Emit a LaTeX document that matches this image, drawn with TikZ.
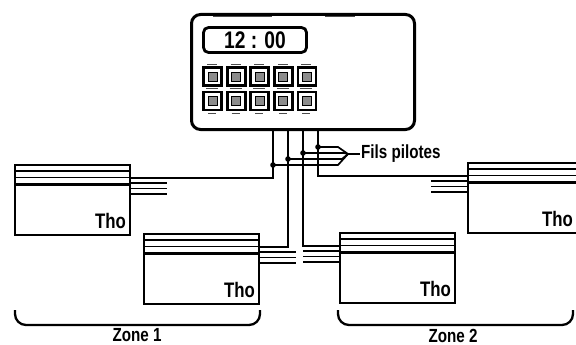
\documentclass[tikz,border=0pt]{standalone}
\usepackage{fontspec}
\newfontfamily\labelfont[FakeStretch=0.8]{Liberation Sans}

\tikzset{
  radiator/.style={draw, line width=2.1pt, minimum width=115pt, minimum height=70pt,
    inner sep=0pt, outer sep=0pt, anchor=north west},
  wire/.style={line width=1.7pt},
  key/.style={draw, line width=2.8pt, minimum size=18pt, inner sep=0pt},
  keyface/.style={draw, line width=0.9pt, fill=black!45, minimum size=9pt, inner sep=0pt},
  tag/.style={font=\labelfont\bfseries\fontsize{19}{20}\selectfont, inner sep=1pt},
  brace/.style={line width=2.3pt, rounded corners=11pt},
}

\begin{document}
\begin{tikzpicture}[x=1pt, y=-1pt]
  \useasboundingbox (0,0) rectangle (576,345);

  % programmer box
  \node[draw, line width=3pt, rounded corners=9pt, minimum width=223pt,
    minimum height=115pt, anchor=north west] (ctrl) at (190,13) {};
  % clock display
  \node[draw, line width=2.8pt, rounded corners=5pt, minimum width=103pt,
    minimum height=25pt, font=\labelfont\bfseries\fontsize{24}{24}\selectfont]
    (screen) at (255,40) {12 : 00};
  % keys
  \foreach \c in {0,...,4}
    \foreach \r in {0,1} {
      \node[key] (key-\r-\c) at ({212.5+23.6*\c}, {76.5+24.5*\r}) {};
      \node[keyface] at (key-\r-\c) {};
    }
  % small print round the keys
  \foreach \c in {0,...,4} {
    \draw[line width=0.6pt, black!70] ({207+23.6*\c},64) -- ++(10,0);
    \draw[line width=0.6pt, black!70] ({206+23.6*\c},88.5) -- ++(12,0);
    \draw[line width=0.6pt, black!70] ({208+23.6*\c},113) -- ++(8,0);
  }
  \draw[line width=0.6pt, black!70] (213,16) -- (272,16);
  \draw[line width=0.6pt, black!70] (325,16) -- (355,16);

  % radiators
  \node[radiator] (radA) at (15,165) {};
  \node[radiator] (radB) at (144,234) {};
  \node[radiator] (radC) at (340,233) {};
  \node[radiator] (radD) at (468,163) {};
  % fins on top
  \foreach \r/\dx in {radA/-3, radB/-3, radC/-3, radD/-9} {
    \draw[line width=1.6pt] ([yshift=-6pt]\r.north west) -- ([yshift=-6pt]\r.north east);
    \draw[line width=1.6pt] ([yshift=-12.5pt]\r.north west) -- ([yshift=-12.5pt]\r.north east);
    \draw[line width=3pt] ([yshift=-19pt]\r.north west) -- ([yshift=-19pt]\r.north east);
    \node[tag, font=\labelfont\bfseries\fontsize{21}{21}\selectfont, anchor=south east]
      (tho-\r) at ([shift={(\dx pt,5pt)}]\r.south east) {Tho};
  }
  % cable ends
  \foreach \r/\a/\d in {radA/east/1, radB/east/1, radC/west/-1, radD/west/-1} {
    \draw[line width=1.6pt] ([yshift=-18pt]\r.north \a) -- ++(\d*37,0);
    \draw[line width=1.6pt] ([yshift=-23.5pt]\r.north \a) -- ++(\d*37,0);
    \draw[line width=2.3pt] ([yshift=-29pt]\r.north \a) -- ++(\d*37,0);
  }
  \coordinate (inA) at ([yshift=-13pt]radA.north east);
  \coordinate (inB) at ([yshift=-13pt]radB.north east);
  \coordinate (inC) at ([yshift=-13pt]radC.north west);
  \coordinate (inD) at ([yshift=-13pt]radD.north west);

  % pilot wires
  \coordinate (w1) at (273,128);
  \coordinate (w2) at (288,128);
  \coordinate (w3) at (303,128);
  \coordinate (w4) at (318,128);
  \draw[wire] (w1) |- (inA);
  \draw[wire] (w2) |- (inB);
  \draw[wire] (w3) |- (inC);
  \draw[wire] (w4) |- (inD);

  % taps and bundle
  \foreach \i/\x/\y in {1/273/165, 2/288/159, 3/303/153, 4/318/147} {
    \coordinate (j\i) at (\x,\y);
    \fill (j\i) circle (2.8pt);
  }
  \coordinate (tip) at (348,154);
  \draw[wire] (j4) -- (338,147) -- (tip) -- (338,165) -- (j1);
  \draw[wire] (j3) -- (344,153) -- (tip);
  \draw[wire] (j2) -- (342,159) -- (tip);
  \node[tag, anchor=west] (fils) at (360,154) {Fils pilotes};
  \draw[wire] (tip) -- (fils.west);

  % zones
  \draw[brace] (15,310) -- (15,325) -- (260,325) -- (260,310);
  \draw[brace] (338,310) -- (338,325) -- (573,325) -- (573,310);
  \node[tag] (zone1) at (137,335.5) {Zone 1};
  \node[tag] (zone2) at (453,335.5) {Zone 2};

\end{tikzpicture}
\end{document}
